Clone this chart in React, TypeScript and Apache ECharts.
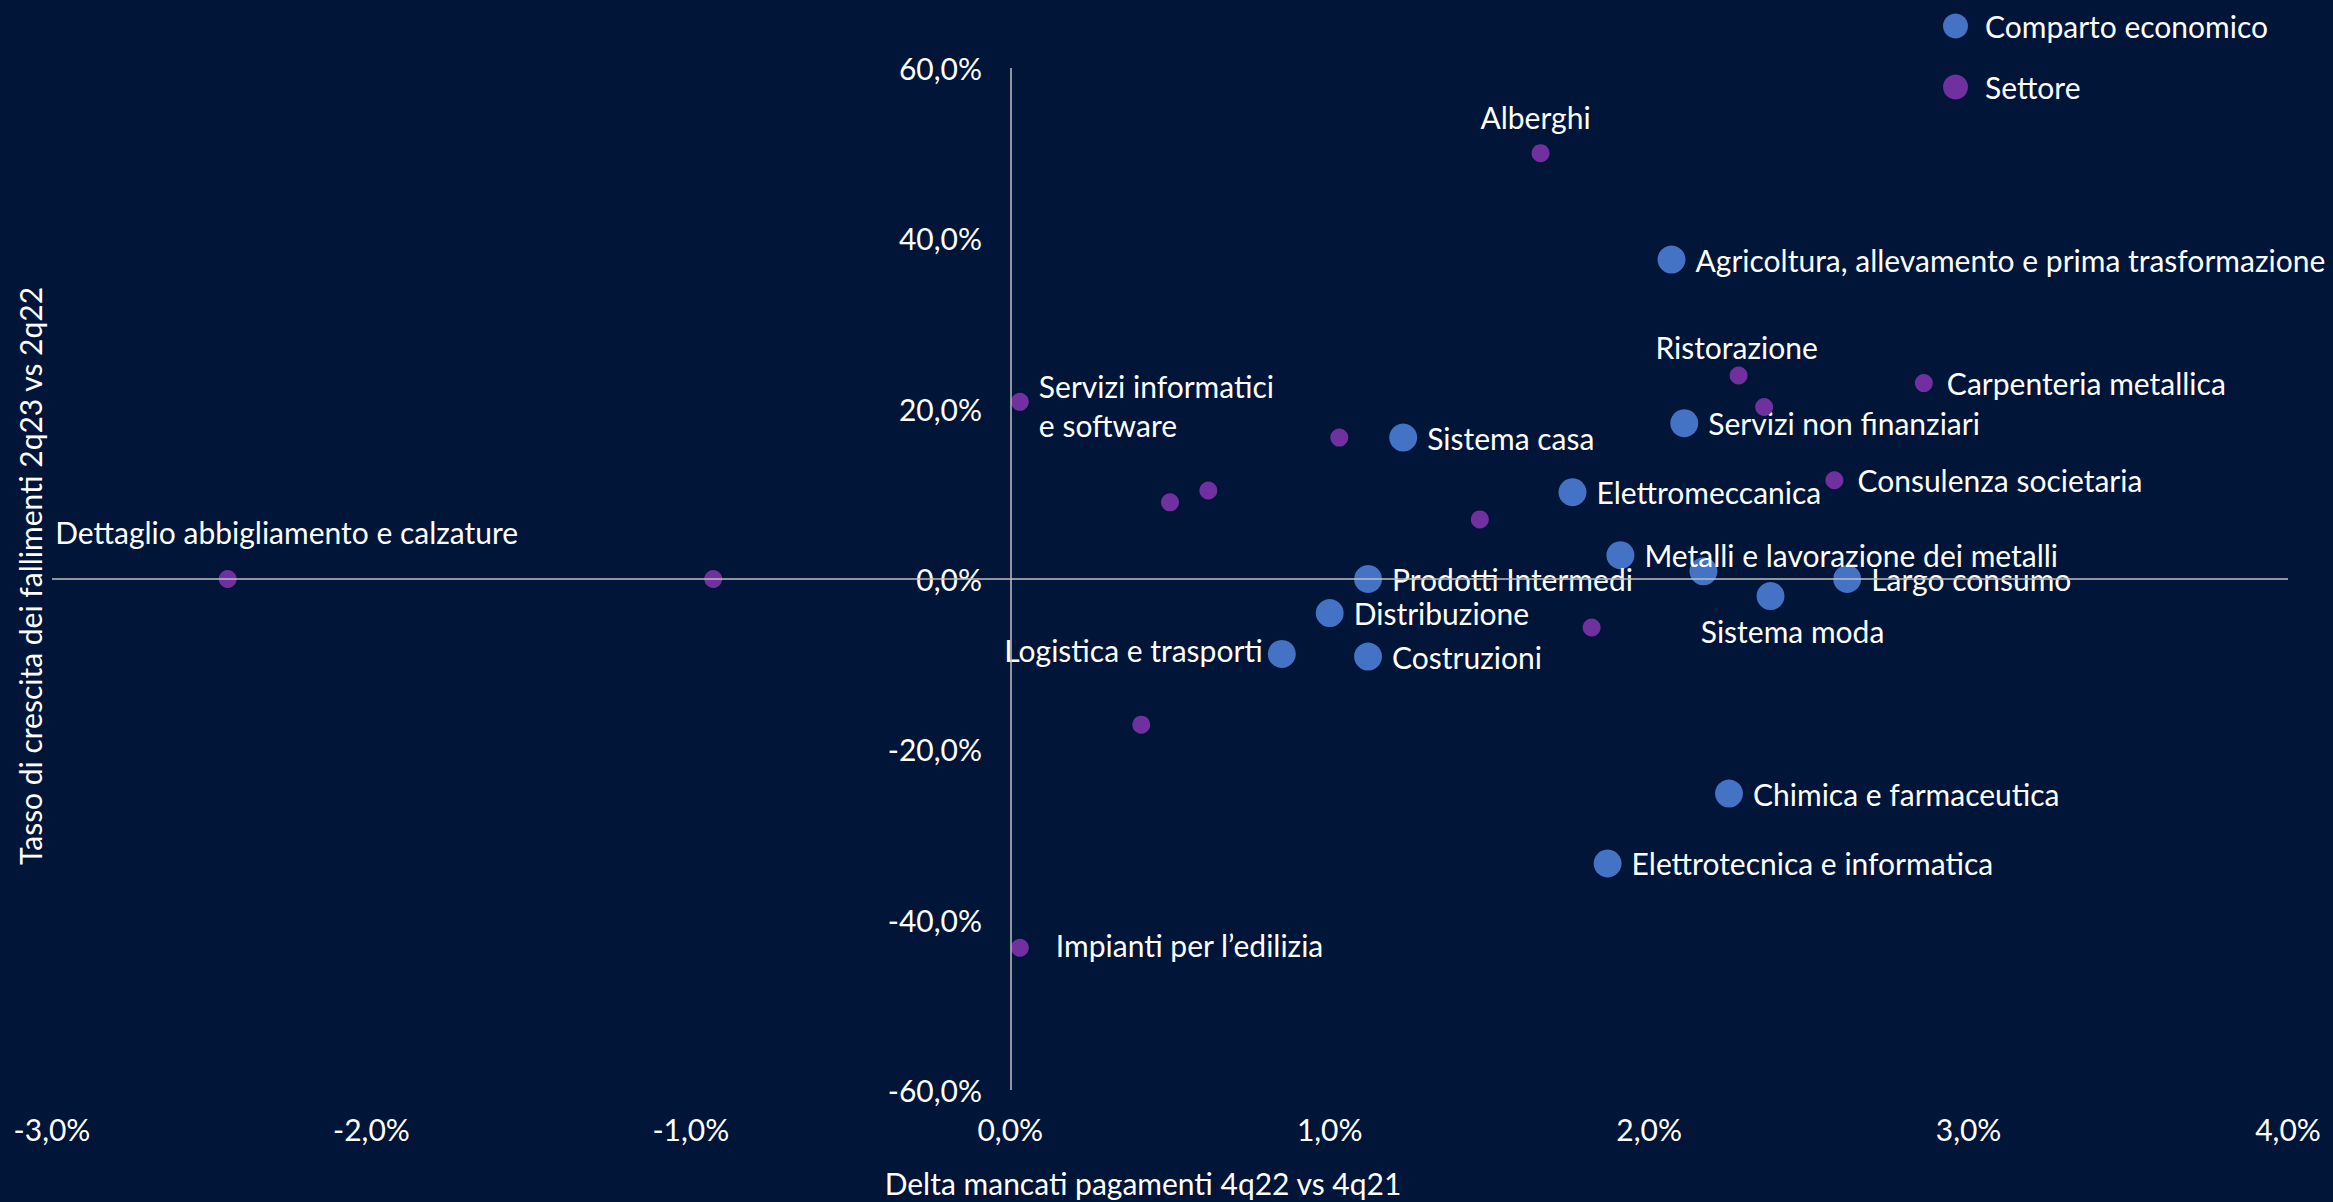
import React, { useEffect, useRef } from 'react';
import * as echarts from 'echarts';

// ---- Data ----
const compartoNames = [
  'Agricoltura, allevamento e prima trasformazione',
  'Servizi non finanziari',
  'Sistema casa',
  'Elettromeccanica',
  'Metalli e lavorazione dei metalli',
  '',
  'Largo consumo',
  'Sistema moda',
  'Prodotti Intermedi',
  'Distribuzione',
  'Logistica e trasporti',
  'Costruzioni',
  'Chimica e farmaceutica',
  'Elettrotecnica e informatica',
];
const compartoX = [2.07, 2.11, 1.23, 1.76, 1.91, 2.17, 2.62, 2.38, 1.12, 1.0, 0.85, 1.12, 2.25, 1.87];
const compartoY = [37.5, 18.3, 16.6, 10.2, 2.8, 0.9, 0.0, -2.0, 0.0, -4.0, -8.8, -9.1, -25.2, -33.4];

const settoreNames = [
  'Alberghi',
  'Ristorazione',
  '',
  'Carpenteria metallica',
  'Servizi informatici\ne software',
  '',
  '',
  '',
  '',
  'Consulenza societaria',
  'Dettaglio abbigliamento e calzature',
  '',
  '',
  '',
  'Impianti per l’edilizia',
];
const settoreX = [1.66, 2.28, 2.36, 2.86, 0.03, 1.03, 0.62, 0.5, 1.47, 2.58, -2.45, -0.93, 1.82, 0.41, 0.03];
const settoreY = [50.0, 23.9, 20.2, 23.0, 20.8, 16.6, 10.4, 9.0, 7.0, 11.6, 0.0, 0.0, -5.7, -17.1, -43.3];

const seriesNames = ['Comparto economico', 'Settore'];
const xAxisTitle = 'Delta mancati pagamenti 4q22 vs 4q21';
const yAxisTitle = 'Tasso di crescita dei fallimenti 2q23 vs 2q22';

// ---- Styling ----
const FONT = 'Lato, "Open Sans", sans-serif';
const BG = '#001538';
const BLUE = '#4472C4';
const PURPLE = '#7030A0';
const AXIS = '#BFBFBF';
const FS = 30;

const fmt = (v: number) => v.toFixed(1).replace('.', ',') + '%';

const labelPlacement: Record<string, { position?: string; distance?: number; offset?: number[] }> = {
  'Sistema moda': { position: 'bottom', distance: 1, offset: [22, 0] },
  'Logistica e trasporti': { position: 'left', distance: 5, offset: [0, -4] },
  Alberghi: { position: 'top', distance: 8, offset: [-5, 0] },
  Ristorazione: { position: 'top', distance: 0, offset: [-2, 0] },
  'Dettaglio abbigliamento e calzature': { position: 'top', distance: 19, offset: [59, 0] },
  'Impianti per l’edilizia': { position: 'right', distance: 27, offset: [0, -3] },
  'Servizi informatici\ne software': { position: 'right', distance: 10, offset: [0, 4] },
};

function buildData(names: string[], xs: number[], ys: number[], defDist: number) {
  return names.map((n, i) => {
    const p = labelPlacement[n] || {};
    return {
      name: n,
      value: [xs[i], ys[i]],
      label: {
        show: n !== '',
        position: p.position ?? 'right',
        distance: p.distance ?? defDist,
        offset: p.offset ?? [0, 0],
      },
    };
  });
}

export default function App() {
  const ref = useRef<HTMLDivElement>(null);
  useEffect(() => {
    if (!ref.current) return;
    const chart = echarts.init(ref.current, undefined, { renderer: 'svg' });
    const labelStyle = {
      color: '#FFFFFF',
      fontSize: FS,
      fontFamily: FONT,
      lineHeight: 39,
      formatter: '{b}',
    };
    chart.setOption({
      animation: false,
      backgroundColor: BG,
      textStyle: { fontFamily: FONT },
      grid: { left: 52, right: 45, top: 68, bottom: 112, outerBoundsMode: 'none' },
      legend: {
        data: seriesNames,
        orient: 'vertical',
        left: 1938,
        top: 6,
        itemWidth: 25,
        itemHeight: 25,
        itemGap: 31,
        icon: 'circle',
        textStyle: { color: '#FFFFFF', fontSize: FS, fontFamily: FONT, padding: [0, 0, 0, 12] },
      },
      xAxis: {
        type: 'value',
        min: -3,
        max: 4,
        interval: 1,
        axisLine: { show: false, onZero: false },
        axisTick: { show: false },
        splitLine: { show: false },
        axisLabel: { formatter: fmt, color: '#FFFFFF', fontSize: FS, fontFamily: FONT, margin: 24 },
      },
      yAxis: {
        type: 'value',
        min: -60,
        max: 60,
        interval: 20,
        axisLine: { show: false, onZero: false },
        axisTick: { show: false },
        splitLine: { show: false },
        axisLabel: { formatter: fmt, color: '#FFFFFF', fontSize: FS, fontFamily: FONT, margin: -930 },
      },
      graphic: [
        {
          type: 'text',
          x: 1143,
          y: 1183,
          style: {
            text: xAxisTitle,
            fill: '#FFFFFF',
            fontSize: FS,
            fontFamily: FONT,
            align: 'center',
            verticalAlign: 'middle',
          },
        },
        {
          type: 'text',
          x: 30,
          y: 576,
          rotation: Math.PI / 2,
          style: {
            text: yAxisTitle,
            fill: '#FFFFFF',
            fontSize: FS,
            fontFamily: FONT,
            align: 'center',
            verticalAlign: 'middle',
          },
        },
      ],
      series: [
        {
          name: seriesNames[0],
          type: 'scatter',
          symbol: 'circle',
          symbolSize: 28,
          itemStyle: { color: BLUE, opacity: 1 },
          label: labelStyle,
          z: 3,
          data: buildData(compartoNames, compartoX, compartoY, 10),
          markLine: {
            silent: true,
            symbol: ['none', 'none'],
            label: { show: false },
            lineStyle: { color: AXIS, width: 1.5, type: 'solid' },
            data: [{ yAxis: 0 }, { xAxis: 0 }],
          },
        },
        {
          name: seriesNames[1],
          type: 'scatter',
          symbol: 'circle',
          symbolSize: 18,
          itemStyle: { color: PURPLE, opacity: 1 },
          label: labelStyle,
          z: 4,
          data: buildData(settoreNames, settoreX, settoreY, 14),
        },
      ],
    });
    return () => chart.dispose();
  }, []);
  return <div ref={ref} style={{ position: 'fixed', left: 0, top: 0, width: 2333, height: 1202 }} />;
}
